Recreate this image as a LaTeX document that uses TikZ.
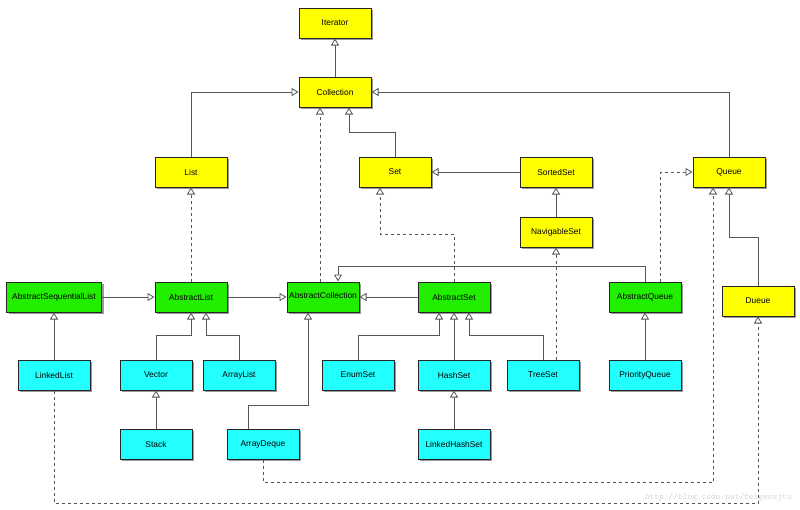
\documentclass[tikz,border=0pt]{standalone}
\usepackage{fontspec}
\setmainfont{Liberation Sans}
\usetikzlibrary{arrows.meta, shadows}

\definecolor{ifyellow}{RGB}{255,255,0}
\definecolor{absgreen}{RGB}{34,238,0}
\definecolor{clscyan}{RGB}{34,255,255}
\definecolor{linkgray}{RGB}{85,85,85}

\begin{document}
\begin{tikzpicture}[x=1pt, y=-1pt,
    box/.style={draw=black!85, line width=1pt, minimum width=72pt, minimum height=30pt,
        inner xsep=1pt, font=\fontsize{8.4}{10}\selectfont,
        drop shadow={shadow xshift=2pt, shadow yshift=-2pt, opacity=1, fill=black!40}},
    iface/.style={box, fill=ifyellow},
    abst/.style={box, fill=absgreen},
    cls/.style={box, fill=clscyan},
    ext/.style={draw=linkgray, line width=0.8pt, -{Triangle[open, length=7pt, width=8pt, fill=white]}},
    imp/.style={ext, dashed}]
    \useasboundingbox (0,0) rectangle (800,509);

    % interfaces
    \node[iface] (iter) at (335,23) {Iterator};
    \node[iface] (coll) at (335,92) {Collection};
    \node[iface] (list) at (191,172) {List};
    \node[iface] (set) at (395,172) {Set};
    \node[iface] (sorted) at (556,172) {SortedSet};
    \node[iface] (queue) at (729,172) {Queue};
    \node[iface] (nav) at (556,232) {NavigableSet};
    \node[iface] (dueue) at (758,301) {Dueue};

    % abstract classes
    \node[abst, minimum width=95pt] (aseq) at (54,297) {AbstractSequentialList};
    \node[abst] (alist) at (191,297) {AbstractList};
    \node[abst] (acoll) at (323,297) {\raisebox{4pt}{AbstractCollection}};
    \node[abst] (aset) at (454,297) {AbstractSet};
    \node[abst] (aqueue) at (645,297) {AbstractQueue};

    % classes
    \node[cls] (llist) at (54,375) {LinkedList};
    \node[cls] (vector) at (156,375) {Vector};
    \node[cls] (alst) at (239,375) {ArrayList};
    \node[cls] (enumset) at (358,375) {EnumSet};
    \node[cls] (hashset) at (454,375) {HashSet};
    \node[cls] (treeset) at (543,375) {TreeSet};
    \node[cls] (pqueue) at (645,375) {PriorityQueue};
    \node[cls] (stack) at (156,444) {Stack};
    \node[cls] (adeque) at (263,444) {ArrayDeque};
    \node[cls] (lhset) at (454,444) {LinkedHashSet};

    % straight links
    \foreach \i/\j in {coll/iter, sorted/set, nav/sorted, aseq/alist, alist/acoll, aset/acoll,
        llist/aseq, stack/vector, hashset/aset, lhset/hashset, pqueue/aqueue} {
        \draw[ext] (\i) -- (\j);
    }
    \draw[imp] (alist) -- (list);
    \draw[imp] ([xshift=-3pt]acoll.north) -- ([xshift=-3pt]acoll.north |- coll.south);
    \draw[imp] (nav.south |- treeset.north) -- (nav.south);

    % elbow links
    \draw[ext] (list.north) |- (coll.west);
    \draw[ext] (queue.north) |- (coll.east);
    \draw[ext] (set.north) -- (set.north |- 0,132) -| ([xshift=14pt]coll.south);
    \draw[ext] (aqueue.north) -- (aqueue.north |- 0,266) -| ([xshift=15pt]acoll.north);
    \draw[ext] (dueue.north) -- (dueue.north |- 0,237) -| (queue.south);
    \draw[ext] (vector.north) -- (vector.north |- 0,335) -| (alist.south);
    \draw[ext] (alst.north) -- (alst.north |- 0,335) -| ([xshift=15pt]alist.south);
    \draw[ext] ([xshift=-15pt]adeque.north) -- ([xshift=-15pt]adeque.north |- 0,405) -| ([xshift=-15pt]acoll.south);
    \draw[ext] (enumset.north) -- (enumset.north |- 0,335) -| ([xshift=-15pt]aset.south);
    \draw[ext] (treeset.north) -- (treeset.north |- 0,335) -| ([xshift=15pt]aset.south);
    \draw[imp] (aset.north) -- (aset.north |- 0,234) -| ([xshift=-15pt]set.south);
    \draw[imp] ([xshift=15pt]aqueue.north) |- (queue.west);
    \draw[imp] (adeque.south) -- (adeque.south |- 0,482) -| ([xshift=-16pt]queue.south);
    \draw[imp] (llist.south) -- (llist.south |- 0,503) -| (dueue.south);

    \node[text=black!15, font=\ttfamily\fontsize{9}{10}\selectfont, anchor=east] (mark) at (795,497) {http://blog.csdn.net/feigeswjtu};
\end{tikzpicture}
\end{document}
